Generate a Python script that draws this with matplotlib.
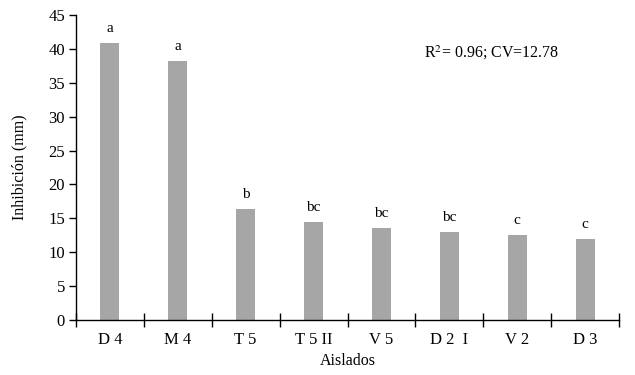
import matplotlib
matplotlib.use("Agg")
import matplotlib.pyplot as plt
import numpy as np

categories = ["D 4", "M 4", "T 5", "T 5 II", "V 5", "D 2  I", "V 2", "D 3"]
values = [40.8, 38.2, 16.4, 14.45, 13.6, 13.0, 12.5, 11.95]
letters = ["a", "a", "b", "bc", "bc", "bc", "c", "c"]
yticks = [0, 5, 10, 15, 20, 25, 30, 35, 40, 45]

plt.rcParams['font.family'] = ['Liberation Serif', 'DejaVu Serif']
fig = plt.figure(figsize=(6.35, 3.75), dpi=100)
ax = fig.add_axes([76/635, 1-320/375, (619-76)/635, (320-15)/375])

x = np.arange(len(categories))
ax.bar(x, values, width=0.28, color="#a6a6a6")
for xi, v, l in zip(x, values, letters):
    ax.text(xi, v + 1.2, l, ha="center", va="bottom", fontsize=11)

ax.set_xlim(-0.5, len(categories) - 0.5)
ax.set_ylim(0, 45)
ax.set_yticks(yticks)
ax.tick_params(axis="y", direction="out", length=5, width=1, labelsize=12, pad=3)
ax.set_xticks(x)
ax.set_xticklabels(categories)
ax.tick_params(axis="x", which="major", length=0, labelsize=12, pad=9)
ax.set_xticks(np.arange(-0.5, len(categories), 1), minor=True)
ax.tick_params(axis="x", which="minor", direction="inout", length=10, width=1)

for s in ["top", "right"]:
    ax.spines[s].set_visible(False)
for s in ["left", "bottom"]:
    ax.spines[s].set_linewidth(1)

ax.set_ylabel("Inhibición (mm)", fontsize=11.5, labelpad=15)
ax.set_xlabel("Aislados", fontsize=11.5, labelpad=3)
ax.text(4.63, 39.4, "R$^{2}$= 0.96; CV=12.78", ha="left", va="center", fontsize=11.5,
        math_fontfamily="stix")

fig.savefig("out.png", dpi=100)
